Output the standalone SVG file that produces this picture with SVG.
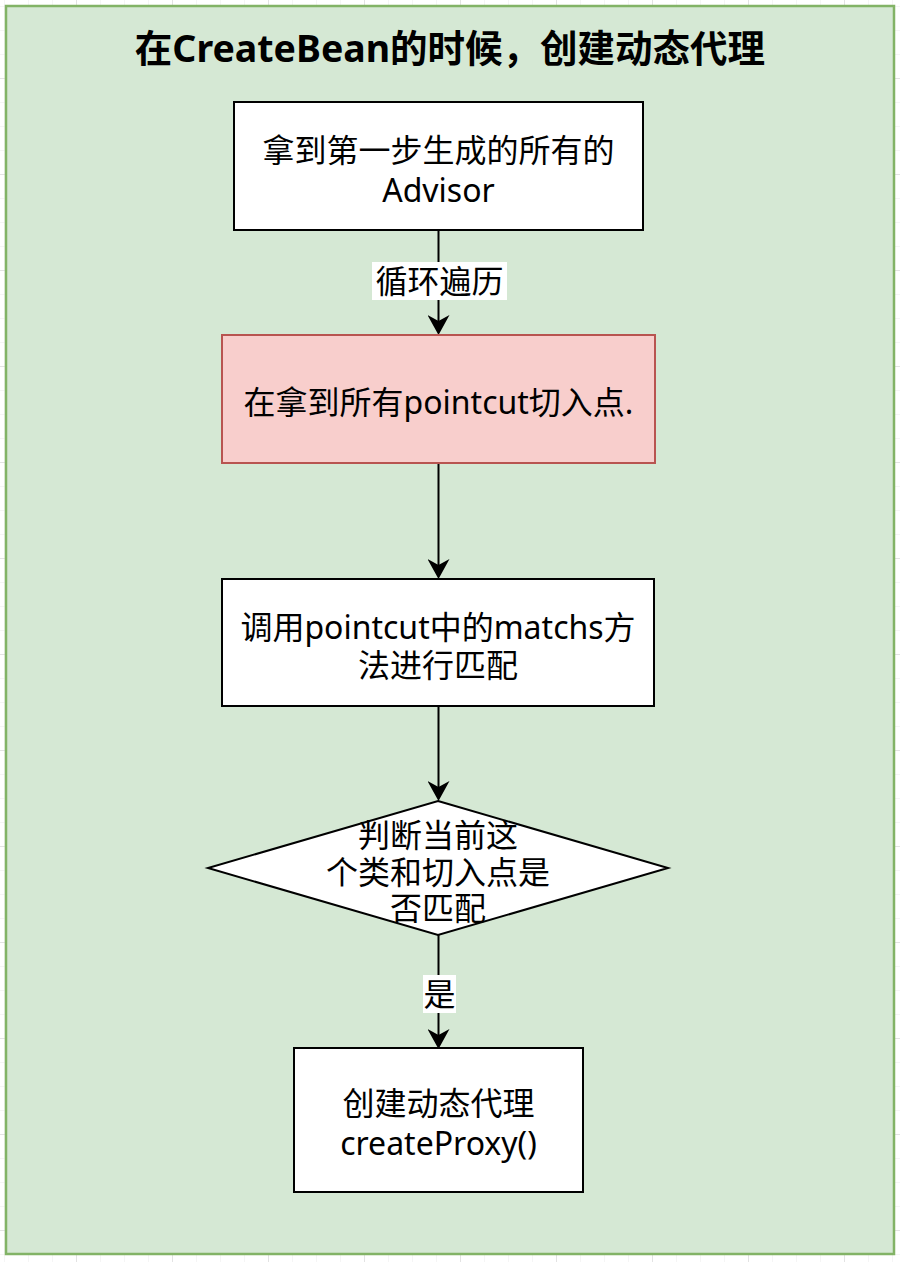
<svg xmlns="http://www.w3.org/2000/svg" width="900" height="1262" viewBox="0 0 900 1262">
<defs>
<pattern id="gridS" width="24" height="24" patternUnits="userSpaceOnUse" x="4" y="6">
<path d="M0,0 H24 M0,0 V24" fill="none" stroke="#ebebeb" stroke-width="1"/>
</pattern>
<pattern id="gridL" width="96" height="96" patternUnits="userSpaceOnUse" x="76" y="78">
<path d="M0,0 H96 M0,0 V96" fill="none" stroke="#d2d2d2" stroke-width="1"/>
</pattern>
<marker id="arr" viewBox="0 0 20 22" refX="6" refY="11" markerWidth="20" markerHeight="22" markerUnits="userSpaceOnUse" orient="auto">
<path d="M0,0 L20,11 L0,22 L6,11 Z" fill="#000"/>
</marker>
</defs>
<style>
.t{font-family:"Noto Sans","Noto Sans CJK SC",sans-serif;font-size:32px;fill:#000;text-anchor:middle}
.title{font-family:"Noto Sans","Noto Sans CJK SC",sans-serif;font-size:37.5px;font-weight:bold;fill:#000;text-anchor:middle}
.box{fill:#fff;stroke:#000;stroke-width:2}
.edge{stroke:#000;stroke-width:2;fill:none;marker-end:url(#arr)}
.lbl{fill:#fff}
</style>
<rect width="900" height="1262" fill="#fff"/>
<rect width="900" height="1262" fill="url(#gridS)"/>
<rect width="900" height="1262" fill="url(#gridL)"/>
<g id="container">
<rect x="6" y="6" width="888" height="1248" fill="#d5e8d4" stroke="#82b366" stroke-width="2.5"/>
<text class="title" x="450" y="62">在CreateBean的时候，创建动态代理</text>
</g>
<g id="connectors">
<line class="edge" x1="438.5" y1="230" x2="438.5" y2="321"/>
<rect class="lbl" x="372" y="262" width="135" height="38"/>
<text class="t" x="439.5" y="293">循环遍历</text>
<line class="edge" x1="438.5" y1="463" x2="438.5" y2="565"/>
<line class="edge" x1="438.5" y1="706" x2="438.5" y2="787"/>
<line class="edge" x1="438.5" y1="935" x2="438.5" y2="1035"/>
<rect class="lbl" x="423" y="975" width="33" height="38"/>
<text class="t" x="439.5" y="1006">是</text>
</g>
<g id="node1">
<rect class="box" x="234" y="102" width="409" height="128"/>
<text class="t" x="438.5" y="162">拿到第一步生成的所有的</text>
<text class="t" x="438.5" y="202">Advisor</text>
</g>
<g id="node2">
<rect x="222" y="335" width="433" height="128" fill="#f8cecc" stroke="#b85450" stroke-width="2"/>
<text class="t" x="438.5" y="414">在拿到所有pointcut切入点.</text>
</g>
<g id="node3">
<rect class="box" x="222" y="579" width="432" height="127"/>
<text class="t" x="438" y="639">调用pointcut中的matchs方</text>
<text class="t" x="438" y="677">法进行匹配</text>
</g>
<g id="node4">
<polygon class="box" points="438,801 668,868 438,935 208,868"/>
<text class="t" x="438" y="847">判断当前这</text>
<text class="t" x="438" y="884">个类和切入点是</text>
<text class="t" x="438" y="920">否匹配</text>
</g>
<g id="node5">
<rect class="box" x="294" y="1048" width="289" height="144"/>
<text class="t" x="438.5" y="1115">创建动态代理</text>
<text class="t" x="438.5" y="1155">createProxy()</text>
</g>
</svg>
